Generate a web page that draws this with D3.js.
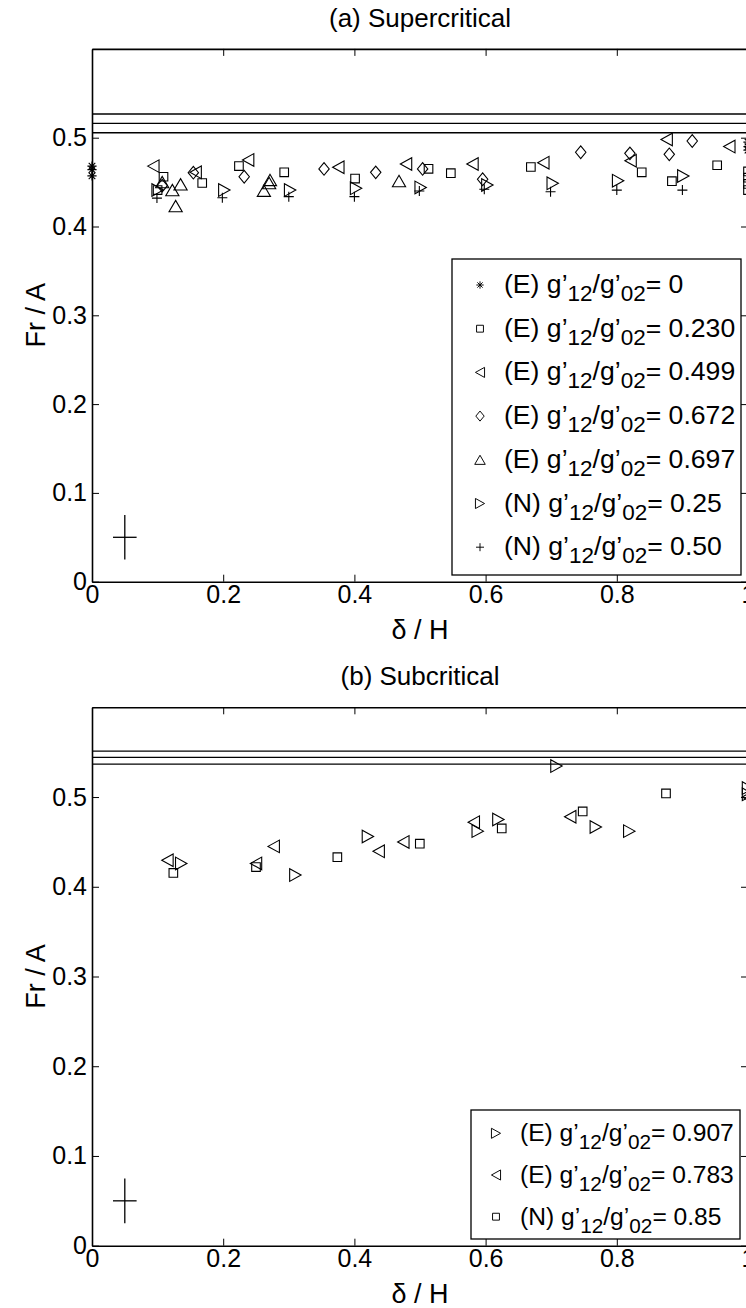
<!DOCTYPE html>
<html>
<head>
<meta charset="utf-8">
<script src="https://cdn.jsdelivr.net/npm/d3@7"></script>
<style>
  body { margin: 0; background: #fff; }
  svg { display: block; font-family: "Liberation Sans", Arial, Helvetica, sans-serif; }
</style>
</head>
<body>
<svg id="fig" width="746" height="1308"></svg>
<script>
// ---- data ----
const xTicks = [0, 0.2, 0.4, 0.6, 0.8, 1];
const yTicks = [0, 0.1, 0.2, 0.3, 0.4, 0.5];

// (a) supercritical
const supLines = [0.5267, 0.5162, 0.5056];
const supE000 = [[0, 0.468], [0, 0.464], [0, 0.457], [1, 0.495], [1, 0.49], [1, 0.486]];
const supE230 = [[0.109, 0.456], [0.1, 0.441], [0.168, 0.449], [0.224, 0.468], [0.293, 0.461],
  [0.401, 0.454], [0.513, 0.465], [0.547, 0.46], [0.669, 0.467], [0.838, 0.461], [0.884, 0.451],
  [0.953, 0.469], [1, 0.462], [1, 0.455], [1, 0.448], [1, 0.441]];
const supE499 = [[0.0935, 0.468], [0.158, 0.461], [0.238, 0.475], [0.3755, 0.4667], [0.4787, 0.4704],
  [0.58, 0.4704], [0.688, 0.4719], [0.821, 0.474], [0.876, 0.498], [0.9715, 0.49]];
const supE672 = [[0.107, 0.446], [0.1545, 0.4606], [0.232, 0.456], [0.3537, 0.4648], [0.4325, 0.461],
  [0.504, 0.4648], [0.5955, 0.4532], [0.745, 0.4836], [0.82, 0.4824], [0.88, 0.4813], [0.915, 0.4963]];
const supE697 = [[0.107, 0.45], [0.1225, 0.441], [0.135, 0.4475], [0.1275, 0.423], [0.2713, 0.4524],
  [0.27, 0.449], [0.262, 0.4403], [0.468, 0.4512]];
const supN025 = [[0.1, 0.441], [0.2017, 0.441], [0.302, 0.441], [0.4025, 0.443], [0.501, 0.444],
  [0.6027, 0.4467], [0.7023, 0.4486], [0.802, 0.4516], [0.9014, 0.4569]];
const supN050 = [[0.099, 0.432], [0.1987, 0.4324], [0.3, 0.4336], [0.4, 0.4336], [0.499, 0.44],
  [0.598, 0.4419], [0.699, 0.4392], [0.8, 0.441], [0.9, 0.441]];

// (b) subcritical
const subLines = [0.5512, 0.5442, 0.5367];
const subE907 = [[0.136, 0.426], [0.31, 0.413], [0.4206, 0.456], [0.588, 0.462], [0.6195, 0.475],
  [0.708, 0.5345], [0.768, 0.4666], [0.819, 0.462], [1, 0.51], [1, 0.503]];
const subE783 = [[0.115, 0.4295], [0.25, 0.426], [0.277, 0.445], [0.437, 0.4395], [0.4746, 0.45],
  [0.582, 0.472], [0.729, 0.478], [1, 0.5]];
const subN085 = [[0.124, 0.4154], [0.25, 0.422], [0.374, 0.433], [0.4997, 0.448], [0.6246, 0.465],
  [0.748, 0.484], [0.875, 0.504]];

// error cross
const crossPt = [0.05, 0.05];
const crossErr = [0.018, 0.025];

// ---- marker glyphs ----
function glyph(type) {
  switch (type) {
    case "star": return "M0,-4.6V4.6M-4.6,0H4.6M-3.3,-3.3L3.3,3.3M-3.3,3.3L3.3,-3.3";
    case "square": return "M-4.3,-4.3H4.3V4.3H-4.3Z";
    case "left": return "M-5.7,0L5.7,-6.3V6.3Z";
    case "right": return "M5.7,0L-5.7,-6.3V6.3Z";
    case "up": return "M0,-5.7L6.6,5.7H-6.6Z";
    case "diamond": return "M0,-6.3L5.2,0L0,6.3L-5.2,0Z";
    case "plus": return "M0,-5V5M-5,0H5";
  }
}

const svg = d3.select("#fig");

function panel(o) {
  const x = d3.scaleLinear().domain([0, 1]).range([92, 748]);
  const y = d3.scaleLinear().domain([0, 0.6]).range([o.bottom, o.top]);
  const g = svg.append("g");

  // title
  g.append("text").attr("x", 420).attr("y", o.top - 22)
    .attr("text-anchor", "middle").attr("font-size", 26).text(o.title);

  // horizontal reference lines
  g.selectAll("line.ref").data(o.lines).join("line").attr("class", "ref")
    .attr("x1", x(0)).attr("x2", x(1))
    .attr("y1", d => y(d)).attr("y2", d => y(d))
    .attr("stroke", "#000").attr("stroke-width", 1.3);

  // axes (inward ticks, box)
  const style = a => a.attr("font-family", null).attr("font-size", 25)
    .call(s => s.selectAll(".domain").attr("stroke-width", 1.6))
    .call(s => s.selectAll(".tick line").attr("stroke-width", 1));
  g.append("g").attr("transform", `translate(0,${o.bottom})`)
    .call(d3.axisBottom(x).tickValues(xTicks).tickSize(-7).tickSizeOuter(0).tickPadding(4).tickFormat(d => String(d)))
    .call(style);
  g.append("g").attr("transform", `translate(0,${o.top})`)
    .call(d3.axisTop(x).tickValues(xTicks).tickSize(-7).tickSizeOuter(0).tickFormat(""))
    .call(style);
  g.append("g").attr("transform", `translate(${x(0)},0)`)
    .call(d3.axisLeft(y).tickValues(yTicks).tickSize(-7).tickSizeOuter(0).tickPadding(5).tickFormat(d => String(d)))
    .call(style);
  g.append("g").attr("transform", `translate(${x(1)},0)`)
    .call(d3.axisRight(y).tickValues(yTicks).tickSize(-7).tickSizeOuter(0).tickFormat(""))
    .call(style);

  // axis labels
  g.append("text").attr("x", 420).attr("y", o.bottom + 57)
    .attr("text-anchor", "middle").attr("font-size", 27).text("δ / H");
  g.append("text").attr("transform", `translate(45,${(o.top + o.bottom) / 2}) rotate(-90)`)
    .attr("text-anchor", "middle").attr("font-size", 27).text("Fr / A");

  // data markers
  o.series.forEach(s => {
    g.append("g").selectAll("path").data(s.pts).join("path")
      .attr("transform", d => `translate(${x(d[0])},${y(d[1])})`)
      .attr("d", glyph(s.type))
      .attr("fill", "none").attr("stroke", "#000").attr("stroke-width", 1.1);
  });

  // error cross
  const cx = x(crossPt[0]), cy = y(crossPt[1]);
  g.append("line").attr("x1", x(crossPt[0] - crossErr[0])).attr("x2", x(crossPt[0] + crossErr[0]))
    .attr("y1", cy).attr("y2", cy).attr("stroke", "#000").attr("stroke-width", 1.3);
  g.append("line").attr("x1", cx).attr("x2", cx)
    .attr("y1", y(crossPt[1] - crossErr[1])).attr("y2", y(crossPt[1] + crossErr[1]))
    .attr("stroke", "#000").attr("stroke-width", 1.3);

  // legend
  const L = o.legend;
  g.append("rect").attr("x", L.x0).attr("y", L.y0)
    .attr("width", L.x1 - L.x0).attr("height", L.y1 - L.y0)
    .attr("fill", "#fff").attr("stroke", "#000").attr("stroke-width", 1.3);
  o.series.forEach((s, i) => {
    const ry = L.first + i * L.step;
    g.append("path").attr("transform", `translate(${L.x0 + L.mark},${ry}) scale(0.8)`)
      .attr("d", glyph(s.type)).attr("fill", "none").attr("stroke", "#000").attr("stroke-width", 1.2);
    const t = g.append("text").attr("x", L.x0 + L.text).attr("y", ry + 8).attr("font-size", L.fs);
    t.append("tspan").text(`(${s.kind}) g’`);
    t.append("tspan").attr("dy", 8).attr("font-size", L.sub).text("12");
    t.append("tspan").attr("dy", -8).text("/g’");
    t.append("tspan").attr("dy", 8).attr("font-size", L.sub).text("02");
    t.append("tspan").attr("dy", -8).text(`= ${s.value}`);
  });
}

panel({
  title: "(a) Supercritical", top: 48.9, bottom: 581.7, lines: supLines,
  series: [
    { pts: supE000, type: "star", kind: "E", value: "0" },
    { pts: supE230, type: "square", kind: "E", value: "0.230" },
    { pts: supE499, type: "left", kind: "E", value: "0.499" },
    { pts: supE672, type: "diamond", kind: "E", value: "0.672" },
    { pts: supE697, type: "up", kind: "E", value: "0.697" },
    { pts: supN025, type: "right", kind: "N", value: "0.25" },
    { pts: supN050, type: "plus", kind: "N", value: "0.50" }
  ],
  legend: { x0: 452, x1: 741, y0: 259, y1: 575, first: 285, step: 43.7, mark: 28, text: 52, fs: 26.6, sub: 22.5 }
});

panel({
  title: "(b) Subcritical", top: 707.3, bottom: 1245.7, lines: subLines,
  series: [
    { pts: subE907, type: "right", kind: "E", value: "0.907" },
    { pts: subE783, type: "left", kind: "E", value: "0.783" },
    { pts: subN085, type: "square", kind: "N", value: "0.85" }
  ],
  legend: { x0: 471, x1: 740, y0: 1110, y1: 1239, first: 1133.3, step: 41.7, mark: 25, text: 49, fs: 24.6, sub: 20.8 }
});
</script>
</body>
</html>
